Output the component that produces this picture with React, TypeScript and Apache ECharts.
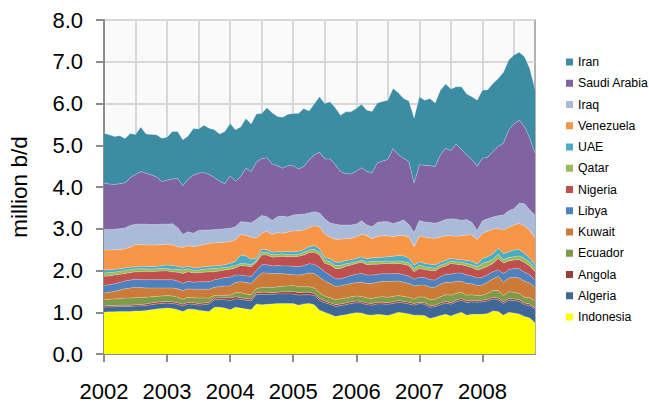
import React, { useEffect, useRef } from "react";
import * as echarts from "echarts";

const YEARS = ["2002", "2003", "2004", "2005", "2006", "2007", "2008"];
const MONTH_COUNT = 83; // Jan 2002 .. Nov 2008

const Indonesia = [
  1.00, 1.01, 1.01, 1.02, 1.02, 1.02, 1.03, 1.03, 1.04, 1.06,
  1.08, 1.09, 1.10, 1.09, 1.06, 1.02, 1.08, 1.07, 1.05, 1.03,
  1.02, 1.12, 1.12, 1.10, 1.06, 1.12, 1.10, 1.08, 1.06, 1.20,
  1.18, 1.19, 1.20, 1.21, 1.21, 1.21, 1.21, 1.17, 1.20, 1.21,
  1.18, 1.05, 1.00, 0.95, 0.90, 0.92, 0.94, 0.97, 0.99, 0.98,
  0.94, 0.93, 0.95, 0.94, 0.92, 0.96, 1.00, 0.98, 0.96, 0.93,
  0.93, 0.92, 0.85, 0.88, 0.92, 0.95, 0.91, 0.96, 1.00, 0.93,
  0.95, 0.95, 0.95, 0.97, 1.03, 1.02, 0.93, 1.00, 0.98, 0.96,
  0.90, 0.86, 0.75,
];
const Algeria = [
  0.12, 0.12, 0.12, 0.12, 0.12, 0.12, 0.12, 0.12, 0.12, 0.12,
  0.12, 0.12, 0.12, 0.12, 0.13, 0.13, 0.12, 0.12, 0.12, 0.15,
  0.18, 0.18, 0.18, 0.20, 0.22, 0.20, 0.21, 0.21, 0.21, 0.22,
  0.25, 0.24, 0.23, 0.23, 0.23, 0.23, 0.23, 0.24, 0.22, 0.21,
  0.22, 0.23, 0.23, 0.24, 0.24, 0.24, 0.24, 0.24, 0.24, 0.24,
  0.24, 0.24, 0.25, 0.26, 0.27, 0.25, 0.24, 0.24, 0.24, 0.24,
  0.28, 0.27, 0.27, 0.25, 0.26, 0.27, 0.28, 0.29, 0.29, 0.30,
  0.30, 0.29, 0.30, 0.30, 0.29, 0.28, 0.28, 0.29, 0.30, 0.30,
  0.28, 0.30, 0.32,
];
const Angola = [
  0.03, 0.03, 0.03, 0.03, 0.03, 0.03, 0.03, 0.03, 0.04, 0.04,
  0.04, 0.04, 0.04, 0.04, 0.04, 0.04, 0.04, 0.04, 0.04, 0.04,
  0.04, 0.04, 0.04, 0.05, 0.06, 0.05, 0.04, 0.04, 0.04, 0.05,
  0.05, 0.05, 0.04, 0.04, 0.05, 0.05, 0.06, 0.06, 0.06, 0.06,
  0.05, 0.05, 0.04, 0.04, 0.04, 0.04, 0.04, 0.04, 0.04, 0.04,
  0.04, 0.04, 0.04, 0.04, 0.04, 0.04, 0.04, 0.04, 0.04, 0.04,
  0.03, 0.04, 0.04, 0.04, 0.04, 0.04, 0.04, 0.04, 0.04, 0.04,
  0.04, 0.04, 0.04, 0.04, 0.04, 0.04, 0.04, 0.04, 0.04, 0.04,
  0.04, 0.04, 0.04,
];
const Ecuador = [
  0.15, 0.15, 0.16, 0.16, 0.17, 0.17, 0.17, 0.17, 0.16, 0.15,
  0.14, 0.14, 0.14, 0.14, 0.13, 0.12, 0.12, 0.12, 0.13, 0.12,
  0.10, 0.06, 0.06, 0.06, 0.07, 0.10, 0.12, 0.11, 0.11, 0.10,
  0.11, 0.12, 0.12, 0.13, 0.13, 0.14, 0.14, 0.14, 0.13, 0.13,
  0.13, 0.13, 0.12, 0.12, 0.12, 0.12, 0.12, 0.12, 0.12, 0.12,
  0.12, 0.12, 0.12, 0.13, 0.13, 0.13, 0.12, 0.12, 0.12, 0.10,
  0.13, 0.13, 0.14, 0.14, 0.15, 0.16, 0.18, 0.16, 0.15, 0.14,
  0.13, 0.12, 0.12, 0.14, 0.16, 0.18, 0.15, 0.16, 0.16, 0.15,
  0.14, 0.15, 0.16,
];
const Kuwait = [
  0.16, 0.17, 0.18, 0.20, 0.22, 0.24, 0.25, 0.24, 0.22, 0.21,
  0.20, 0.19, 0.18, 0.19, 0.20, 0.21, 0.20, 0.20, 0.21, 0.21,
  0.21, 0.20, 0.21, 0.22, 0.22, 0.24, 0.26, 0.27, 0.27, 0.25,
  0.35, 0.34, 0.33, 0.32, 0.30, 0.28, 0.26, 0.28, 0.30, 0.33,
  0.35, 0.38, 0.36, 0.34, 0.32, 0.31, 0.32, 0.32, 0.32, 0.34,
  0.35, 0.36, 0.36, 0.37, 0.38, 0.36, 0.35, 0.34, 0.33, 0.32,
  0.28, 0.29, 0.30, 0.29, 0.30, 0.30, 0.30, 0.29, 0.26, 0.28,
  0.26, 0.24, 0.24, 0.27, 0.28, 0.34, 0.32, 0.33, 0.36, 0.37,
  0.38, 0.35, 0.32,
];
const Libya = [
  0.18, 0.18, 0.18, 0.18, 0.19, 0.19, 0.19, 0.19, 0.20, 0.20,
  0.20, 0.20, 0.20, 0.20, 0.19, 0.17, 0.18, 0.17, 0.18, 0.18,
  0.18, 0.18, 0.19, 0.20, 0.21, 0.18, 0.16, 0.16, 0.17, 0.18,
  0.20, 0.20, 0.19, 0.19, 0.19, 0.20, 0.20, 0.20, 0.21, 0.22,
  0.22, 0.23, 0.22, 0.20, 0.18, 0.17, 0.18, 0.19, 0.20, 0.21,
  0.20, 0.20, 0.19, 0.18, 0.18, 0.18, 0.18, 0.18, 0.17, 0.16,
  0.19, 0.18, 0.18, 0.17, 0.18, 0.19, 0.20, 0.20, 0.20, 0.20,
  0.19, 0.18, 0.19, 0.18, 0.17, 0.16, 0.20, 0.20, 0.21, 0.22,
  0.22, 0.20, 0.18,
];
const Nigeria = [
  0.22, 0.21, 0.21, 0.20, 0.18, 0.18, 0.18, 0.19, 0.20, 0.19,
  0.20, 0.21, 0.21, 0.19, 0.21, 0.24, 0.23, 0.22, 0.22, 0.23,
  0.24, 0.19, 0.19, 0.18, 0.19, 0.17, 0.23, 0.24, 0.23, 0.20,
  0.23, 0.23, 0.21, 0.21, 0.23, 0.22, 0.23, 0.25, 0.25, 0.27,
  0.29, 0.30, 0.20, 0.25, 0.25, 0.25, 0.26, 0.25, 0.26, 0.27,
  0.25, 0.26, 0.24, 0.24, 0.25, 0.24, 0.24, 0.25, 0.26, 0.18,
  0.21, 0.19, 0.22, 0.22, 0.22, 0.20, 0.26, 0.21, 0.20, 0.22,
  0.20, 0.19, 0.21, 0.20, 0.20, 0.27, 0.26, 0.21, 0.20, 0.22,
  0.23, 0.21, 0.20,
];
const Qatar = [
  0.08, 0.08, 0.07, 0.07, 0.07, 0.07, 0.07, 0.07, 0.06, 0.06,
  0.06, 0.06, 0.06, 0.06, 0.07, 0.08, 0.07, 0.06, 0.06, 0.07,
  0.07, 0.08, 0.07, 0.06, 0.06, 0.06, 0.05, 0.05, 0.05, 0.05,
  0.06, 0.06, 0.06, 0.06, 0.06, 0.05, 0.05, 0.05, 0.06, 0.06,
  0.07, 0.07, 0.08, 0.07, 0.07, 0.07, 0.06, 0.05, 0.04, 0.05,
  0.06, 0.07, 0.07, 0.06, 0.06, 0.06, 0.06, 0.06, 0.07, 0.08,
  0.08, 0.07, 0.07, 0.06, 0.06, 0.06, 0.06, 0.06, 0.06, 0.06,
  0.07, 0.08, 0.12, 0.11, 0.10, 0.10, 0.08, 0.08, 0.08, 0.09,
  0.10, 0.09, 0.08,
];
const UAE = [
  0.08, 0.07, 0.07, 0.06, 0.06, 0.06, 0.05, 0.06, 0.06, 0.06,
  0.06, 0.07, 0.08, 0.09, 0.07, 0.06, 0.06, 0.06, 0.06, 0.06,
  0.06, 0.06, 0.06, 0.07, 0.08, 0.10, 0.20, 0.19, 0.13, 0.05,
  0.08, 0.07, 0.06, 0.06, 0.06, 0.07, 0.07, 0.07, 0.07, 0.08,
  0.09, 0.08, 0.06, 0.07, 0.08, 0.08, 0.08, 0.08, 0.08, 0.08,
  0.08, 0.08, 0.09, 0.10, 0.10, 0.12, 0.13, 0.14, 0.11, 0.08,
  0.08, 0.08, 0.08, 0.08, 0.07, 0.07, 0.06, 0.06, 0.06, 0.07,
  0.08, 0.06, 0.12, 0.12, 0.13, 0.14, 0.14, 0.14, 0.16, 0.15,
  0.12, 0.10, 0.08,
];
const Venezuela = [
  0.47, 0.47, 0.47, 0.46, 0.46, 0.48, 0.53, 0.52, 0.51, 0.52,
  0.51, 0.50, 0.50, 0.50, 0.47, 0.48, 0.50, 0.51, 0.52, 0.53,
  0.55, 0.55, 0.55, 0.54, 0.52, 0.52, 0.49, 0.49, 0.53, 0.47,
  0.39, 0.44, 0.42, 0.46, 0.43, 0.47, 0.50, 0.49, 0.47, 0.46,
  0.47, 0.53, 0.56, 0.52, 0.55, 0.55, 0.52, 0.51, 0.52, 0.54,
  0.56, 0.46, 0.51, 0.51, 0.50, 0.47, 0.48, 0.49, 0.50, 0.44,
  0.62, 0.63, 0.63, 0.64, 0.60, 0.59, 0.54, 0.55, 0.57, 0.61,
  0.63, 0.59, 0.60, 0.61, 0.59, 0.48, 0.57, 0.58, 0.60, 0.63,
  0.66, 0.65, 0.65,
];
const Iraq = [
  0.50, 0.49, 0.49, 0.50, 0.50, 0.52, 0.49, 0.49, 0.50, 0.49,
  0.49, 0.49, 0.48, 0.50, 0.46, 0.31, 0.33, 0.32, 0.37, 0.35,
  0.32, 0.32, 0.32, 0.32, 0.32, 0.31, 0.31, 0.32, 0.34, 0.45,
  0.42, 0.35, 0.34, 0.38, 0.41, 0.36, 0.38, 0.39, 0.38, 0.35,
  0.34, 0.33, 0.37, 0.34, 0.36, 0.34, 0.33, 0.32, 0.30, 0.32,
  0.25, 0.29, 0.33, 0.34, 0.34, 0.31, 0.32, 0.37, 0.30, 0.34,
  0.37, 0.36, 0.37, 0.36, 0.37, 0.39, 0.41, 0.41, 0.37, 0.37,
  0.30, 0.22, 0.30, 0.30, 0.29, 0.30, 0.36, 0.40, 0.39, 0.48,
  0.53, 0.50, 0.55,
];
const SaudiArabia = [
  1.10, 1.09, 1.07, 1.08, 1.08, 1.14, 1.19, 1.26, 1.22, 1.19,
  1.14, 1.02, 1.05, 1.07, 1.18, 1.17, 1.26, 1.39, 1.37, 1.38,
  1.33, 1.25, 1.15, 1.08, 1.26, 1.09, 1.08, 1.29, 1.23, 1.38,
  1.36, 1.41, 1.35, 1.22, 1.15, 1.23, 1.18, 1.09, 1.14, 1.26,
  1.36, 1.45, 1.43, 1.53, 1.42, 1.28, 1.23, 1.22, 1.27, 1.27,
  1.28, 1.29, 1.43, 1.45, 1.49, 1.80, 1.61, 1.48, 1.51, 1.18,
  1.33, 1.36, 1.36, 1.36, 1.60, 1.71, 1.63, 1.80, 1.70, 1.54,
  1.51, 1.54, 1.50, 1.47, 1.57, 1.66, 1.72, 1.94, 2.03, 1.99,
  1.85, 1.72, 1.48,
];
const Iran = [
  1.20, 1.18, 1.15, 1.15, 1.06, 1.06, 0.96, 1.07, 0.94, 0.97,
  1.01, 1.04, 1.03, 1.14, 1.12, 1.10, 1.03, 1.12, 1.06, 1.13,
  1.11, 1.14, 1.13, 1.25, 1.25, 1.23, 1.19, 1.19, 1.14, 1.15,
  1.08, 1.20, 1.23, 1.18, 1.22, 1.23, 1.25, 1.33, 1.39, 1.18,
  1.22, 1.33, 1.33, 1.37, 1.37, 1.35, 1.48, 1.49, 1.50, 1.52,
  1.47, 1.47, 1.43, 1.43, 1.42, 1.44, 1.49, 1.43, 1.45, 1.56,
  1.63, 1.56, 1.61, 1.52, 1.55, 1.54, 1.48, 1.37, 1.50, 1.47,
  1.50, 1.58, 1.63, 1.62, 1.63, 1.63, 1.70, 1.67, 1.65, 1.63,
  1.67, 1.67, 1.54,
];

// bottom to top stacking order
const SERIES: { name: string; data: number[]; color: string }[] = [
  { name: "Indonesia", data: Indonesia, color: "#FFFF00" },
  { name: "Algeria", data: Algeria, color: "#3F6797" },
  { name: "Angola", data: Angola, color: "#9C3D3B" },
  { name: "Ecuador", data: Ecuador, color: "#7F9A48" },
  { name: "Kuwait", data: Kuwait, color: "#CC7A38" },
  { name: "Libya", data: Libya, color: "#4F81BD" },
  { name: "Nigeria", data: Nigeria, color: "#C0504D" },
  { name: "Qatar", data: Qatar, color: "#9BBB59" },
  { name: "UAE", data: UAE, color: "#4BACC6" },
  { name: "Venezuela", data: Venezuela, color: "#F79646" },
  { name: "Iraq", data: Iraq, color: "#AABAD9" },
  { name: "Saudi Arabia", data: SaudiArabia, color: "#8064A2" },
  { name: "Iran", data: Iran, color: "#3C8CA3" },
];

const FONT = 'Arial, "Liberation Sans", sans-serif';

export default function App() {
  const ref = useRef<HTMLDivElement>(null);
  useEffect(() => {
    if (!ref.current) return;
    const chart = echarts.init(ref.current, undefined, { renderer: "svg" });
    const months: string[] = [];
    YEARS.forEach((y) => {
      for (let m = 1; m <= 12; m++) {
        if (months.length < MONTH_COUNT) months.push(`${y}-${m < 10 ? "0" + m : m}`);
      }
    });
    chart.setOption({
      animation: false,
      backgroundColor: "#ffffff",
      grid: {
        left: 100,
        right: 114,
        top: 20,
        bottom: 49,
        show: true,
        backgroundColor: "#FAFAFA",
        borderColor: "#999999",
        borderWidth: 1.5,
      },
      legend: {
        orient: "vertical",
        left: 561,
        top: 50,
        itemWidth: 7,
        itemHeight: 7,
        itemGap: 7.25,
        icon: "rect",
        selectedMode: false,
        textStyle: { fontSize: 12.3, lineHeight: 14, color: "#000", fontFamily: FONT },
        data: SERIES.map((s) => s.name).reverse(),
      },
      xAxis: {
        type: "category",
        data: months,
        boundaryGap: false,
        axisLine: { lineStyle: { color: "#8c8c8c", width: 2 } },
        axisTick: {
          show: true,
          interval: (i: number) => i % 12 === 0,
          length: 8,
          lineStyle: { color: "#8c8c8c", width: 2 },
        },
        axisLabel: {
          interval: (i: number) => i % 12 === 0,
          formatter: (v: string) => v.slice(0, 4),
          fontSize: 22,
          color: "#000",
          margin: 26,
          fontFamily: FONT,
        },
        splitLine: {
          show: true,
          interval: (i: number) => i % 6 === 0,
          lineStyle: { color: "#D8D8D8", width: 2 },
        },
      },
      yAxis: {
        type: "value",
        min: 0,
        max: 8,
        interval: 1,
        name: "million b/d",
        nameLocation: "middle",
        nameGap: 73,
        nameTextStyle: { fontSize: 22.5, color: "#000", fontFamily: FONT },
        axisLine: { show: true, lineStyle: { color: "#8c8c8c", width: 2 } },
        axisTick: { show: true, length: 8, lineStyle: { color: "#8c8c8c", width: 2 } },
        axisLabel: {
          formatter: (v: number) => v.toFixed(1),
          fontSize: 22,
          color: "#000",
          margin: 21,
          fontFamily: FONT,
        },
        splitLine: { show: true, lineStyle: { color: "#D8D8D8", width: 2 } },
      },
      series: SERIES.map((s) => ({
        name: s.name,
        type: "line",
        stack: "total",
        data: s.data,
        symbol: "none",
        showSymbol: false,
        silent: true,
        color: s.color,
        itemStyle: { color: s.color },
        lineStyle: { width: 0.6, color: "rgba(255,255,255,0.45)" },
        areaStyle: { color: s.color, opacity: 1 },
        emphasis: { disabled: true },
      })),
    });
    return () => chart.dispose();
  }, []);
  return (
    <div
      ref={ref}
      style={{ position: "fixed", left: 0, top: 0, width: 649, height: 403 }}
    />
  );
}
